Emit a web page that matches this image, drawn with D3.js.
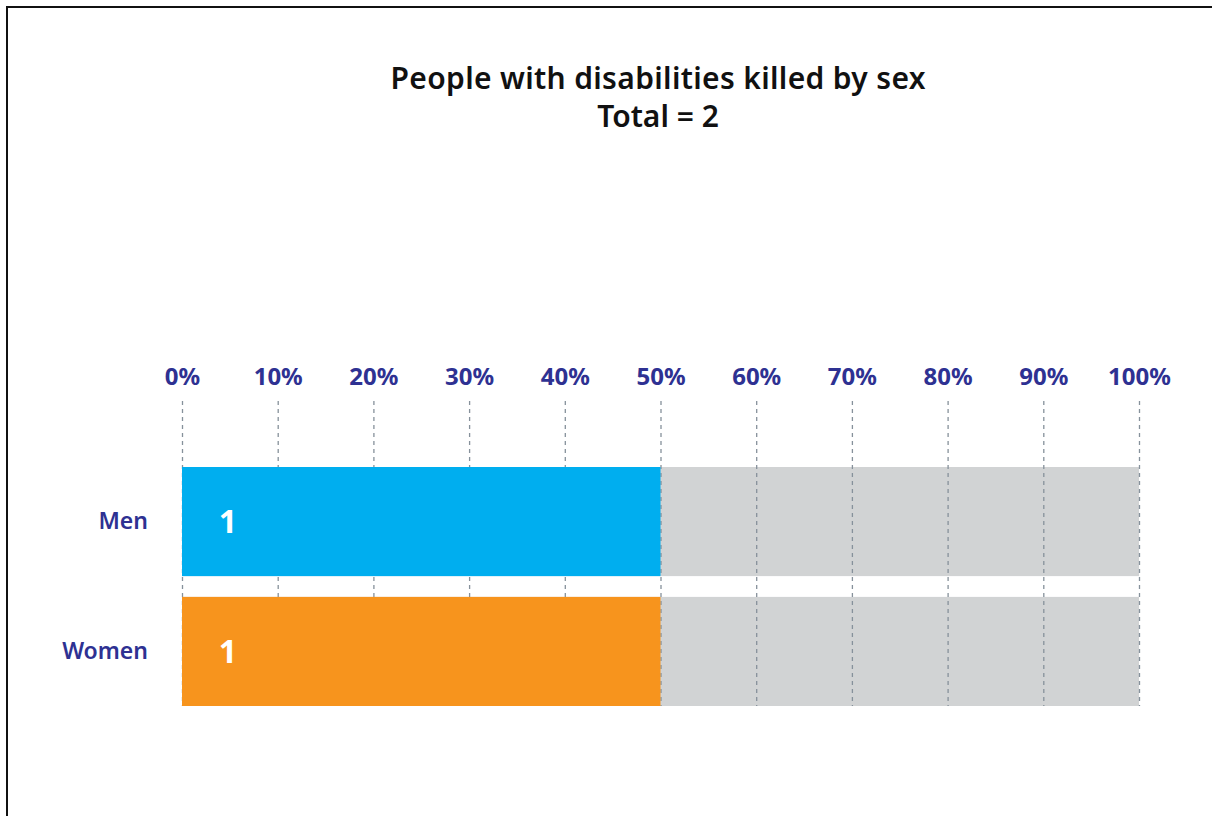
<!DOCTYPE html>
<html><head><meta charset="utf-8">
<script src="https://cdn.jsdelivr.net/npm/d3@7"></script>
<style>
html,body{margin:0;padding:0;background:#fff;overflow:hidden;}
svg{display:block;}
</style></head>
<body>
<script>
const categories = ["Men", "Women"];
const values = [1, 1];
const total = 2;
const colors = ["#00aeef", "#f7941d"];
const tickValues = [0, 10, 20, 30, 40, 50, 60, 70, 80, 90, 100];
const titleLines = ["People with disabilities killed by sex", "Total = 2"];

const W = 1212, H = 816;
const svg = d3.select("body").append("svg").attr("width", W).attr("height", H);

// frame
svg.append("rect").attr("x", 7).attr("y", 7).attr("width", W + 20).attr("height", H + 20)
  .attr("fill", "none").attr("stroke", "#111").attr("stroke-width", 2);

const font = "'Noto Sans', 'Open Sans', sans-serif";
const blue = "#2e3192";

svg.append("g").selectAll("text").data(titleLines).join("text")
  .attr("x", 658).attr("y", (d, i) => 89 + i * 38)
  .attr("text-anchor", "middle")
  .attr("font-family", font).attr("font-weight", 600).attr("font-size", 30)
  .attr("textLength", (d, i) => i === 0 ? 535 : null)
  .attr("fill", "#111").text(d => d);

const x = d3.scaleLinear().domain([0, 100]).range([182, 1139]);
const y = d3.scaleBand().domain(categories).range([467, 706]).paddingInner(0.16).paddingOuter(0);

// gray background bars
svg.append("g").selectAll("rect").data(categories).join("rect")
  .attr("x", x(0)).attr("width", x(100) - x(0))
  .attr("y", d => y(d)).attr("height", y.bandwidth())
  .attr("fill", "#d1d3d4");

// gridlines
svg.append("g").selectAll("line").data(tickValues).join("line")
  .attr("x1", d => x(d) + 0.5).attr("x2", d => x(d) + 0.5)
  .attr("y1", 401).attr("y2", 706)
  .attr("stroke", "#86919b").attr("stroke-width", 1.3).attr("stroke-dasharray", "4,4");

// value bars
const pct = values.map(v => v / total * 100);
svg.append("g").selectAll("rect").data(categories).join("rect")
  .attr("x", x(0)).attr("width", (d, i) => x(pct[i]) - x(0))
  .attr("y", d => y(d)).attr("height", y.bandwidth())
  .attr("fill", (d, i) => colors[i]);

// value labels
svg.append("g").selectAll("text").data(categories).join("text")
  .attr("x", x(0) + 46).attr("y", d => y(d) + y.bandwidth() / 2)
  .attr("dy", "0.36em").attr("text-anchor", "middle")
  .attr("font-family", font).attr("font-weight", 700).attr("font-size", 32)
  .attr("fill", "#fff").text((d, i) => values[i]);

// top axis labels
const axis = d3.axisTop(x).tickValues(tickValues).tickFormat(d => d + "%").tickSize(0).tickPadding(0);
const ag = svg.append("g").attr("transform", "translate(0,385)").call(axis);
ag.select(".domain").remove();
ag.selectAll("text").attr("font-family", font).attr("font-weight", 700)
  .attr("font-size", 24).attr("fill", blue);

// category labels
const yAxis = d3.axisLeft(y).tickSize(0).tickPadding(0);
const yg = svg.append("g").attr("transform", "translate(148,0)").call(yAxis);
yg.select(".domain").remove();
yg.selectAll("text").attr("font-family", font).attr("font-weight", 600)
  .attr("font-size", 23).attr("fill", blue);
</script>
</body></html>
